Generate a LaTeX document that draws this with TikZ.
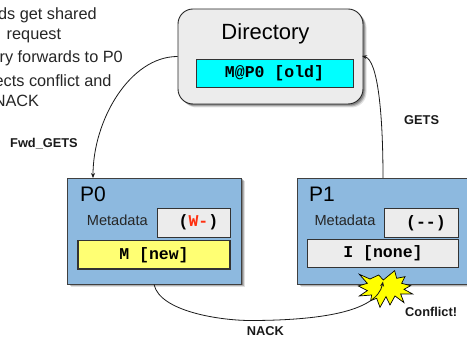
\documentclass[tikz,border=0pt]{standalone}
\usepackage{fontspec}
\setmainfont{Liberation Sans}
\setmonofont{Liberation Mono}
\usetikzlibrary{shadows,arrows.meta}
\definecolor{procblue}{HTML}{8DB9DF}
\definecolor{panelgray}{HTML}{ECECEC}
\definecolor{memyellow}{HTML}{FFFF73}
\definecolor{dircyan}{HTML}{00FFFF}
\definecolor{staryellow}{HTML}{FFFF00}
\definecolor{linkink}{HTML}{1A1A1A}
\definecolor{wred}{HTML}{FF3010}
\newcommand{\fs}[1]{\fontsize{#1}{#1}\selectfont}
\tikzset{
  softshadow/.style={
    drop shadow={shadow xshift=3.5pt,shadow yshift=-3.5pt,opacity=.12,fill=black},
    drop shadow={shadow xshift=2.5pt,shadow yshift=-2.5pt,opacity=.2,fill=black},
    drop shadow={shadow xshift=1.5pt,shadow yshift=-1.5pt,opacity=.25,fill=black}},
  boxat/.style={draw=#1,line width=.9pt,inner sep=0pt,anchor=center},
  dirbox/.style={boxat=black!85,rounded corners=15pt,fill=panelgray,minimum width=185pt,minimum height=95pt,softshadow},
  procbox/.style={boxat=black!75,fill=procblue,minimum height=106pt,softshadow},
  cell/.style={boxat=black!80,fill=panelgray,font=\ttfamily\bfseries\fs{16.5}},
  title/.style={inner sep=0pt,anchor=base west,font=\fs{21}},
  meta/.style={inner sep=0pt,anchor=base west,font=\fs{14.6},text=black!85},
  tag/.style={inner sep=0pt,anchor=base west,font=\bfseries\fs{12.8},text=black!90},
  note/.style={inner sep=0pt,anchor=base east,font=\fs{16.3},text=black!85},
  link/.style={draw=linkink,line width=.8pt,-{Stealth[length=5pt,width=4pt]}}
}
\begin{document}
\begin{tikzpicture}[x=1pt,y=-1pt]
\useasboundingbox (0,0) rectangle (467,339);
% notes
\node[note] (n1) at (97,20) {ds get shared};
\node[note] (n2) at (61.3,40) {request};
\node[note] (n3) at (123,62.5) {ry forwards to P0};
\node[note] (n4) at (111.7,86.5) {ects conflict and};
\node[note] (n5) at (39.3,106.5) {NACK};
% directory
\node[dirbox] (dir) at (270.5,56.5) {};
\node[inner sep=0pt,anchor=base,font=\fs{22}] (dirt) at (265.5,39.5) {Directory};
\node[cell,fill=dircyan,minimum width=157pt,minimum height=28pt] (dirc) at (274.5,73) {M@P0 [old]\hspace{3pt}};
% P0
\node[procbox,minimum width=174pt] (p0) at (154,231) {};
\node[title] (p0t) at (80,202) {P0};
\node[meta] (p0m) at (86.7,226) {Metadata};
\node[cell,minimum width=73pt,minimum height=29pt] (p0v) at (193.5,222.5) {};
\node[font=\ttfamily\bfseries\fs{16.5},inner sep=0pt] (p0s) at (198.5,222.5) {(\textcolor{wred}{W-})};
\node[cell,fill=memyellow,minimum width=152pt,minimum height=28.5pt,line width=1.1pt] (p0d) at (154,254.8) {M [new]\hspace{3pt}};
% P1
\node[procbox,minimum width=174pt] (p1) at (384,231) {};
\node[title] (p1t) at (309,202) {P1};
\node[meta] (p1m) at (314.3,226) {Metadata};
\node[cell,minimum width=74pt,minimum height=29pt] (p1v) at (421,222.5) {};
\node[font=\ttfamily\bfseries\fs{16.5},inner sep=0pt] (p1s) at (426,223) {(--)};
\node[cell,minimum width=151pt,minimum height=28pt] (p1d) at (383,253) {I [none]\hspace{3pt}};
% conflict star
\begin{scope}[shift={(280,170)},x=.3333pt,y=-.3333pt]
\draw[fill=staryellow,draw=black,line width=.7pt,line join=miter]
 (238,313) -- (270,327) -- (296,315) -- (310,330) -- (344,302) -- (350,325) -- (375,320) -- (365,340) -- (392,347) -- (372,358) -- (398,372) -- (362,372) -- (372,398) -- (345,378) -- (330,405) -- (318,380) -- (300,412) -- (290,385) -- (272,392) -- (275,375) -- (238,378) -- (262,362) -- (235,348) -- (262,340) -- cycle;
\end{scope}
% connectors
\coordinate (p0in) at (93,178);
\coordinate (p1out) at (383,178);
\coordinate (starhit) at (383,281.5);
\coordinate (dirin) at (362,56);
\draw[link] (dir.west) .. controls (130,56.5) and (93,120) .. (p0in);
\draw[link] (p1out) .. controls (383,115) and (378,60) .. (dirin);
\draw[link] (p0.south) .. controls (160,312) and (222,320.5) .. (250,320.5) .. controls (318,320.5) and (377,312) .. (starhit);
% labels
\node[tag] (lf) at (10,147.7) {Fwd\_GETS};
\node[tag] (lg) at (404,125) {GETS};
\node[tag] (lc) at (405,316.7) {Conflict!};
\node[tag] (ln) at (246.7,335.7) {NACK};
\end{tikzpicture}
\end{document}
